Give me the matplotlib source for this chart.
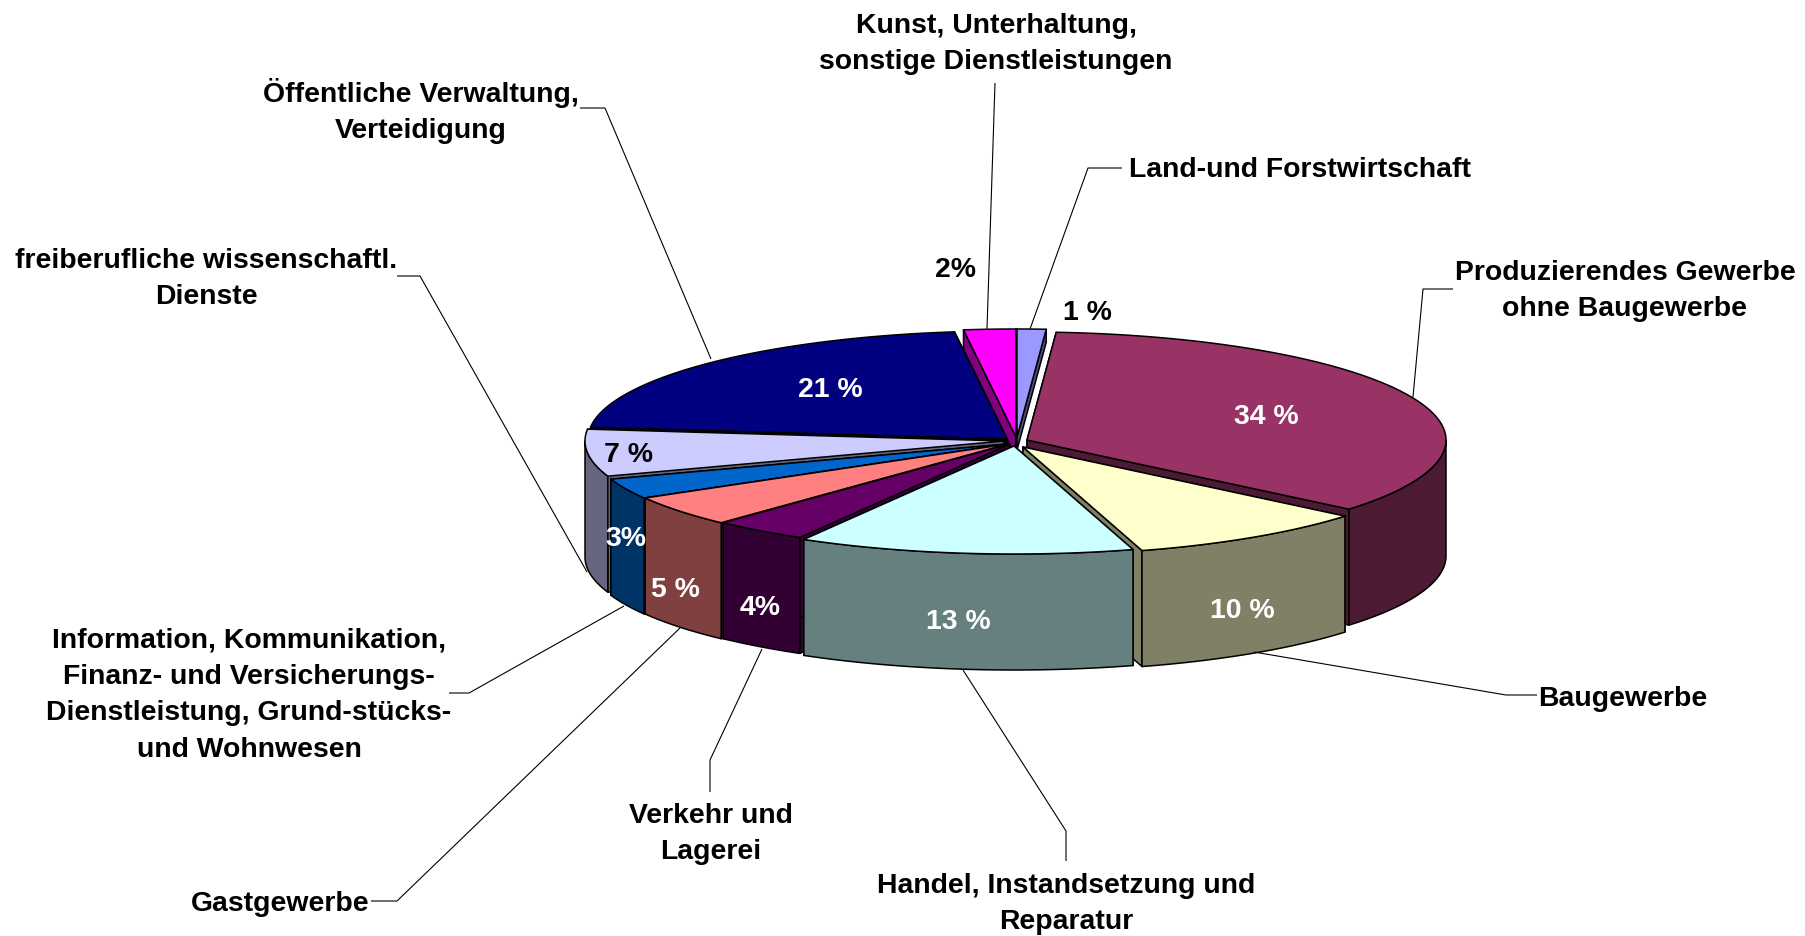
import numpy as np
import matplotlib
matplotlib.use("Agg")
import matplotlib.pyplot as plt

# ---- data ----
sectors = ["Land-und Forstwirtschaft",
           "Produzierendes Gewerbe\nohne Baugewerbe",
           "Baugewerbe",
           "Handel, Instandsetzung und\nReparatur",
           "Verkehr und\nLagerei",
           "Gastgewerbe",
           "Information, Kommunikation,\nFinanz- und Versicherungs-\nDienstleistung, Grund-stücks-\nund Wohnwesen",
           "freiberufliche wissenschaftl.\nDienste",
           "Öffentliche Verwaltung,\nVerteidigung",
           "Kunst, Unterhaltung,\nsonstige Dienstleistungen"]
shares = [1, 34, 10, 13, 4, 5, 3, 7, 21, 2]
share_labels = ["1 %", "34 %", "10 %", "13 %", "4%", "5 %", "3%", "7 %", "21 %", "2%"]
top_colors = ["#9999FF", "#993366", "#FFFFCC", "#CCFFFF", "#660066",
              "#FF8080", "#0066CC", "#CCCCFF", "#000080", "#FF00FF"]
side_colors = ["#4D4D80", "#4D1A33", "#808066", "#668080", "#330033",
               "#804040", "#003366", "#666680", "#000040", "#800080"]

# ---- layout: projection of the tilted, exploded pie (pixels) ----
W, H = 1805, 936
RX, RY, DEPTH = 419, 108, 116
tips = [(1017, 437), (1027, 440), (1023, 447), (1014, 446), (1010, 444),
        (1008, 444), (1007, 444), (1004, 441), (1007, 439), (1016, 437)]
# angular distortion of the 3-D rendering at each slice end, degrees
rim_shift = [0.4, 3.8, 1.5, 1.3, 0.0, -1.2, -1.0, -0.9, 0.0, 0.0]
face_drop = [13, DEPTH, DEPTH, DEPTH, DEPTH, DEPTH, DEPTH, DEPTH, DEPTH, 20]
paint_order = [9, 0, 8, 1, 7, 6, 5, 4, 2, 3]
label_pos = [(1300, 170), (1625, 291), (1623, 699), (1066, 904), (711, 834),
             (280, 904), (249, 695), (206, 279), (421, 111), (996, 44)]
share_pos = [(1087, 313), (1266, 417), (1242, 611), (958, 622), (760, 608),
             (675, 590), (626, 539), (628, 455), (830, 390), (955, 270)]
share_text_colors = ["black", "white", "white", "white", "white",
                     "white", "white", "black", "white", "black"]
leaders = [[(1122, 168), (1088, 168), (1030, 329)],
           [(1453, 289), (1423, 289), (1413, 397)],
           [(1537, 695), (1506, 695), (1254, 652)],
           [(1066, 861), (1066, 831), (963, 670)],
           [(710, 792), (710, 760), (762, 649)],
           [(371, 901), (397, 901), (680, 628)],
           [(449, 693), (469, 693), (624, 606)],
           [(397, 276), (420, 276), (587, 572)],
           [(580, 108), (605, 108), (711, 359)],
           [(995, 83), (987, 329)]]

FS = 20.4
LW = 1.1

plt.rcParams["font.family"] = ["Liberation Sans", "DejaVu Sans"]
fig = plt.figure(figsize=(W / 100, H / 100), dpi=100, facecolor="white")
ax = fig.add_axes([0, 0, 1, 1])
ax.set_xlim(0, W)
ax.set_ylim(H, 0)
ax.axis("off")


def rim(tip, theta):
    """Point(s) on the top rim, theta clockwise from 12 o'clock (degrees)."""
    t = np.radians(theta)
    return tip[0] + RX * np.sin(t), tip[1] - RY * np.cos(t)


ends = np.cumsum(shares) / np.sum(shares) * 360 + np.array(rim_shift)
starts = np.r_[0, ends[:-1]]


def poly(xs, ys, color, z):
    ax.fill(xs, ys, facecolor=color, edgecolor="black", linewidth=LW,
            joinstyle="round", zorder=z)


z = 2
for i in paint_order:
    tip, a, b = tips[i], starts[i], ends[i]
    # radial cut faces
    for th in (a, b):
        x, y = rim(tip, th)
        d = face_drop[i]
        poly([tip[0], x, x, tip[0]], [tip[1], y, y + d, tip[1] + d],
             side_colors[i], z)
        z += 1
    # outer wall, only where it faces the viewer
    lo, hi = max(a, 90), min(b, 270)
    if hi > lo:
        th = np.linspace(lo, hi, 80)
        x, y = rim(tip, th)
        poly(np.r_[x, x[::-1]], np.r_[y, y[::-1] + DEPTH], side_colors[i], z)
        z += 1
    # top surface
    th = np.linspace(a, b, 120)
    x, y = rim(tip, th)
    poly(np.r_[tip[0], x], np.r_[tip[1], y], top_colors[i], z)
    z += 1

for pts in leaders:
    xs, ys = zip(*pts)
    ax.plot(xs, ys, color="black", lw=0.8, zorder=z + 1, solid_capstyle="butt")

for name, (x, y) in zip(sectors, label_pos):
    ax.text(x, y, name, ha="center", va="center", ma="center", fontsize=FS,
            fontweight="bold", color="black", linespacing=1.53, zorder=z + 2)
for s, (x, y), c in zip(share_labels, share_pos, share_text_colors):
    ax.text(x, y, s, ha="center", va="center", fontsize=FS, fontweight="bold",
            color=c, zorder=z + 2)

fig.savefig("out.png", dpi=100, facecolor="white")
